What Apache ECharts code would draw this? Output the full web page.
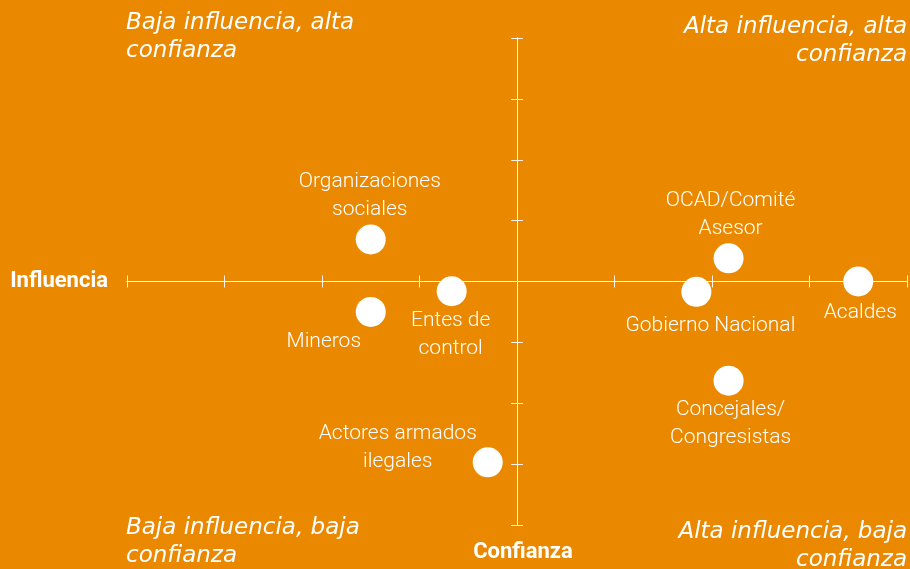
<!DOCTYPE html>
<html><head><meta charset="utf-8">
<script src="https://cdn.jsdelivr.net/npm/echarts@6/dist/echarts.min.js"></script>
<style>html,body{margin:0;padding:0;background:#EA8900}#c{width:910px;height:569px}</style>
</head><body><div id="c"></div><script>
const actors = ['Organizaciones\nsociales','Mineros','Entes de\ncontrol','Actores armados\nilegales','OCAD/Comité\nAsesor','Gobierno Nacional','Acaldes','Concejales/\nCongresistas'];
const influencia = [-1.5, -1.5, -0.67, -0.3, 2.17, 1.84, 3.5, 2.17];
const confianza = [0.69, -0.5, -0.16, -2.97, 0.38, -0.17, 0, -1.63];
const quadrantLabels = ['Baja influencia, alta\nconfianza','Alta influencia, alta\nconfianza','Baja influencia, baja\nconfianza','Alta influencia, baja\nconfianza'];
const xAxisName = 'Influencia';
const yAxisName = 'Confianza';
const axisMin = -4, axisMax = 4, axisStep = 1;

// label placement (style only)
const labelOffsets = [[14,-29],[-32,45],[14,59],[-75,0],[17,-29],[29,49],[17,46],[17,58]];

const white = '#ffffff';
const lineCol = 'rgba(255,255,255,0.9)';
const chart = echarts.init(document.getElementById('c'), null, {renderer:'canvas'});

function mkAxis(isX, primary, inside){
  const a = {
    type:'value', min:axisMin, max:axisMax, interval:axisStep,
    position: isX ? 'bottom' : 'left',
    axisLine:{show:true, onZero:true, lineStyle:{color:lineCol, width:1}},
    axisTick:{show:true, inside:inside, length:6, lineStyle:{color:lineCol, width:1}},
    axisLabel:{show:false}, splitLine:{show:false}
  };
  if (primary){
    a.name = isX ? xAxisName : yAxisName;
    a.nameLocation = 'start';
    a.nameGap = isX ? 19 : 16;
    a.nameTextStyle = {color:white, fontFamily:'Roboto', fontWeight:'bold', fontSize:22,
      padding: isX ? 0 : [0,0,0,12]};
  }
  return a;
}

const quadPos = [
  {left:126, top:9, align:'left'},
  {right:3, top:13, align:'right'},
  {left:126, top:514, align:'left'},
  {right:3, top:518, align:'right'}
];

chart.setOption({
  backgroundColor:'#EA8900',
  animation:false,
  grid:{left:127, right:3, top:38, bottom:44},
  xAxis:[mkAxis(true,true,false), mkAxis(true,false,true)],
  yAxis:[mkAxis(false,true,false), mkAxis(false,false,true)],
  graphic: quadrantLabels.map((t,i)=>Object.assign({
    type:'text',
    style:{text:t, fill:white, font:'italic 23px "DejaVu Sans"', lineHeight:28, textAlign:quadPos[i].align}
  }, (({align, ...r})=>r)(quadPos[i]))),
  series:[{
    type:'scatter',
    xAxisIndex:0, yAxisIndex:0,
    symbolSize:30,
    itemStyle:{color:white, opacity:1},
    label:{show:true, formatter:'{b}', color:white, fontFamily:'Roboto', fontWeight:300, fontSize:21, lineHeight:28, align:'center', verticalAlign:'middle'},
    emphasis:{disabled:true},
    data: actors.map((n,i)=>({name:n, value:[influencia[i], confianza[i]], label:{position:labelOffsets[i]}}))
  }]
});
</script></body></html>
